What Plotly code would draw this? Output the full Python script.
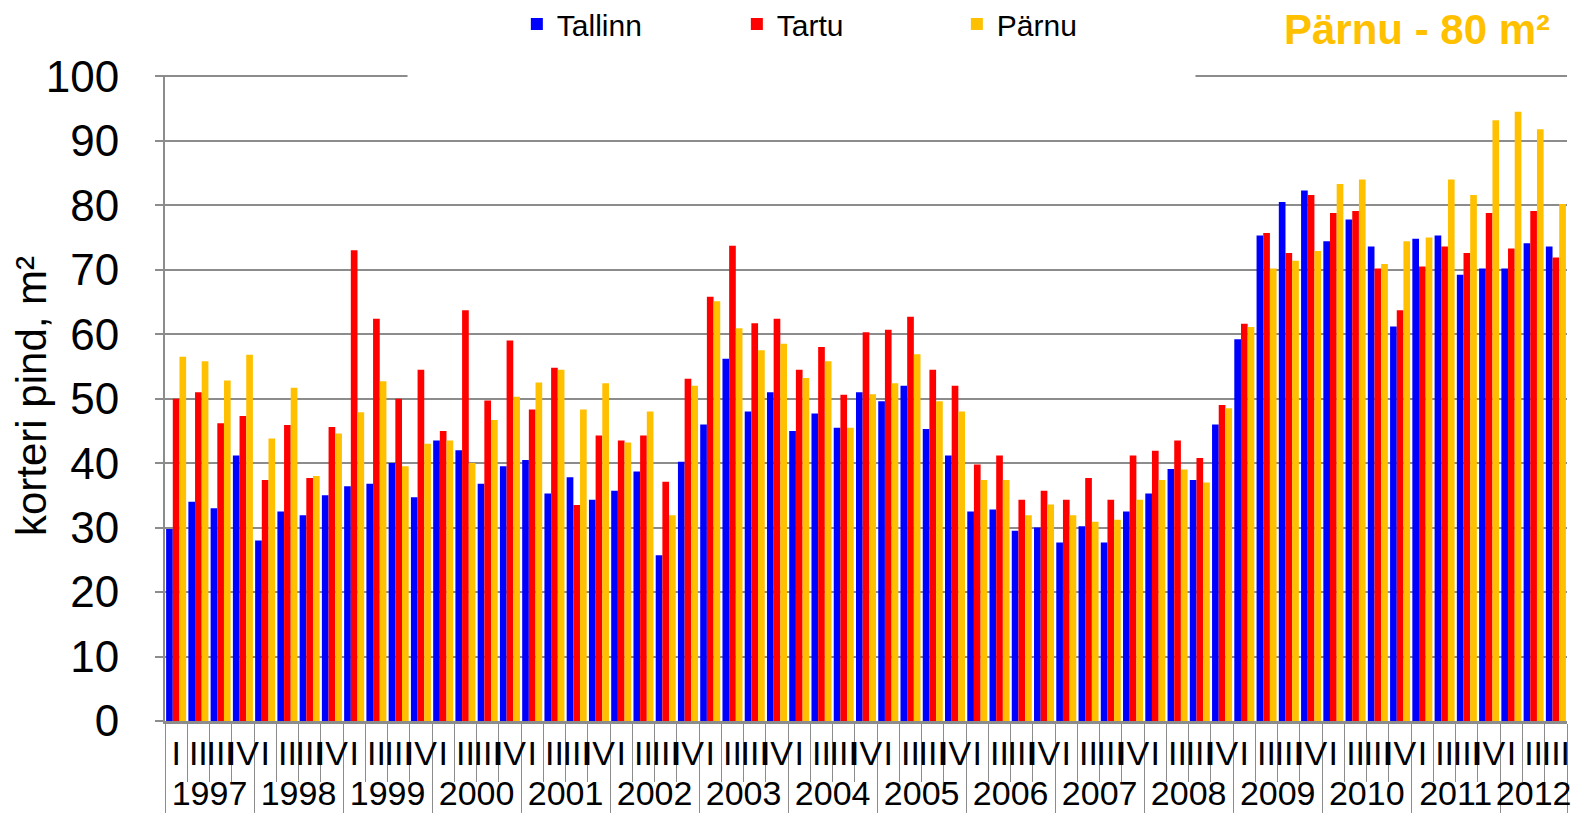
import plotly.graph_objects as go

years = [str(y) for y in range(1997, 2013)]
quarters = ["I", "II", "III", "IV"]

# quarter labels, 1997 I ... 2012 III
x_years = []
x_quarters = []
for y in years:
    for q in quarters:
        if y == "2012" and q == "IV":
            continue
        x_years.append(y)
        x_quarters.append(q)

tallinn = [29.8, 34.0, 33.0, 41.2, 28.0, 32.5, 31.9, 35.0,
           36.4, 36.8, 40.0, 34.7, 43.5, 42.0, 36.8, 39.5,
           40.5, 35.3, 37.8, 34.3, 35.7, 38.7, 25.7, 40.2,
           46.0, 56.2, 48.0, 51.0, 45.0, 47.7, 45.5, 51.0,
           49.6, 52.0, 45.3, 41.2, 32.5, 32.8, 29.5, 30.0,
           27.7, 30.2, 27.7, 32.5, 35.3, 39.1, 37.4, 46.0,
           59.2, 75.3, 80.5, 82.3, 74.4, 77.8, 73.6, 61.2,
           74.8, 75.3, 69.2, 70.2, 70.2, 74.1, 73.6]
tartu = [50.0, 51.0, 46.2, 47.3, 37.4, 45.9, 37.7, 45.6,
         73.0, 62.4, 50.0, 54.5, 45.0, 63.7, 49.7, 59.0,
         48.3, 54.8, 33.5, 44.3, 43.5, 44.3, 37.1, 53.1,
         65.8, 73.7, 61.7, 62.4, 54.5, 58.0, 50.6, 60.3,
         60.7, 62.7, 54.5, 52.0, 39.8, 41.2, 34.3, 35.7,
         34.3, 37.7, 34.3, 41.2, 41.9, 43.5, 40.8, 49.0,
         61.6, 75.7, 72.6, 81.6, 78.8, 79.1, 70.2, 63.7,
         70.5, 73.6, 72.6, 78.8, 73.3, 79.1, 71.9]
parnu = [56.5, 55.8, 52.8, 56.8, 43.8, 51.7, 38.0, 44.6,
         47.9, 52.7, 39.5, 43.0, 43.5, 40.0, 46.7, 50.3,
         52.5, 54.5, 48.3, 52.4, 43.2, 48.0, 31.9, 52.0,
         65.1, 60.9, 57.5, 58.5, 53.2, 55.8, 45.5, 50.7,
         52.4, 56.9, 49.6, 48.0, 37.4, 37.4, 31.9, 33.6,
         31.9, 30.9, 31.2, 34.3, 37.4, 39.0, 37.0, 48.5,
         61.1, 70.2, 71.4, 72.9, 83.3, 84.0, 70.9, 74.4,
         75.0, 84.0, 81.6, 93.2, 94.5, 91.8, 80.2]

series = [("Tallinn", tallinn, "#0000FF"),
          ("Tartu", tartu, "#FF0000"),
          ("Pärnu", parnu, "#FFC000")]

FONT = "Liberation Sans, Arial"
GRID = "#8C8C8C"

fig = go.Figure()
for name, vals, col in series:
    fig.add_trace(go.Bar(
        x=[x_years, x_quarters], y=vals, name=name,
        marker=dict(color=col, line=dict(width=0)),
    ))

fig.update_layout(
    width=1571, height=831,
    paper_bgcolor="white", plot_bgcolor="white",
    font=dict(family=FONT, size=30, color="black"),
    barmode="group", bargap=0.1, bargroupgap=0,
    margin=dict(l=165, r=4, t=75, b=110, autoexpand=False),
    showlegend=True,
    legend=dict(orientation="h", x=0.329, xanchor="left", xref="container",
                y=1.079, yanchor="middle",
                font=dict(size=30), bgcolor="rgba(0,0,0,0)",
                entrywidth=175, entrywidthmode="pixels", itemwidth=30),
    # white strip hides the top gridline behind the legend, as in the original
    shapes=[dict(type="rect", xref="paper", yref="paper",
                 x0=0.173, x1=0.735, y0=0.99, y1=1.02,
                 fillcolor="white", line=dict(width=0), layer="above")],
    annotations=[
        dict(text="<b>Pärnu - 80 m²</b>", xref="paper", yref="paper",
             x=0.9893, y=1.071, xanchor="right", yanchor="middle", showarrow=False,
             font=dict(family=FONT, size=42, color="#FFC000")),
        dict(text="korteri pind, m²", xref="paper", yref="paper", textangle=-90,
             x=-0.0956, y=0.503, xanchor="center", yanchor="middle", showarrow=False,
             font=dict(family=FONT, size=42, color="black")),
    ],
)

fig.update_yaxes(
    range=[0, 100.2], dtick=10, showgrid=True, gridcolor=GRID, gridwidth=2,
    showline=True, linecolor=GRID, linewidth=2,
    ticks="outside", ticklen=8, tickcolor=GRID, tickwidth=2,
    tickfont=dict(size=44), ticklabelstandoff=27,
    zeroline=False,
)
fig.update_xaxes(
    showline=True, linecolor=GRID, linewidth=3,
    ticks="outside", tickson="boundaries", ticklen=58, tickcolor=GRID, tickwidth=1,
    dividercolor=GRID, dividerwidth=1,
    tickangle=0, tickfont=dict(size=34), nticks=200,
    showgrid=False,
)

fig.write_html("out.html", config={"displayModeBar": False},
               post_script="document.body.style.margin='0';")
